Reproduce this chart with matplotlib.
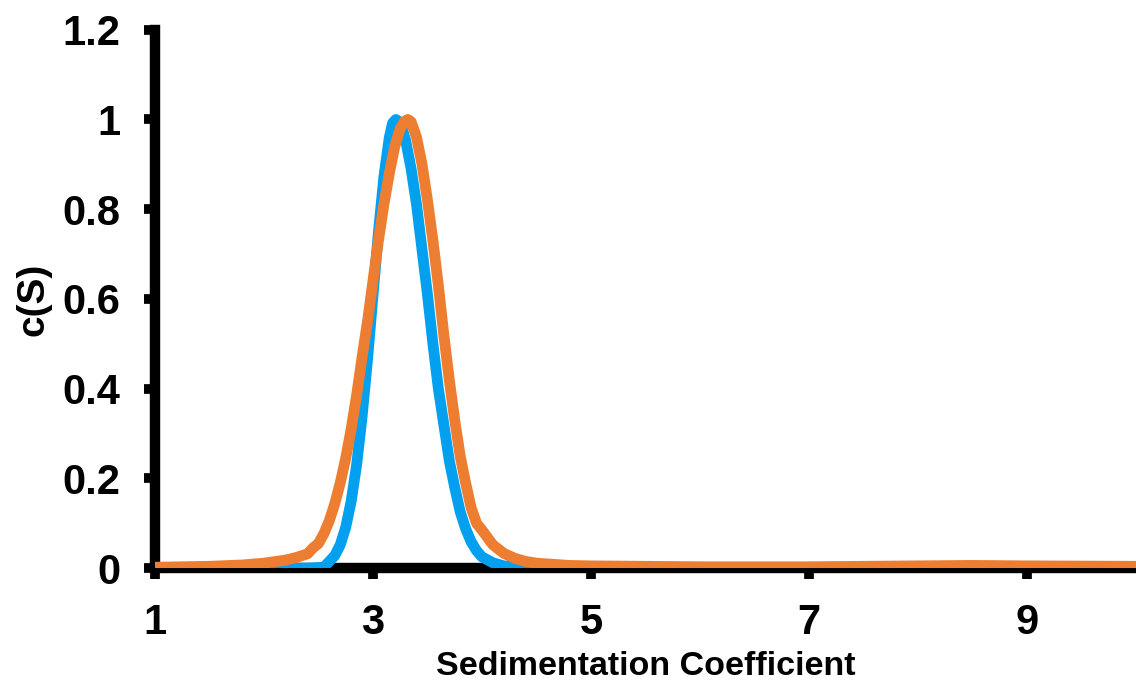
import matplotlib.pyplot as plt

# --------------------------- Data ---------------------------

# blue distribution: sedimentation coefficient vs normalised c(S)
s_blue = [1.0, 2.0, 2.4, 2.55, 2.6, 2.65, 2.7, 2.75, 2.8, 2.85, 2.9, 2.95, 3.0,
          3.05, 3.1, 3.15, 3.18, 3.21, 3.24, 3.27, 3.3, 3.35, 3.4, 3.45, 3.5,
          3.55, 3.6, 3.65, 3.7, 3.75, 3.8, 3.85, 3.9, 3.95, 4.0, 4.1, 4.2, 4.4,
          5.0, 10.0]
c_blue = [0.0, 0.0, 0.0, 0.002, 0.015, 0.028, 0.052, 0.091, 0.149, 0.23, 0.337,
          0.465, 0.607, 0.748, 0.872, 0.96, 0.992, 1.0, 0.995, 0.978, 0.953,
          0.89, 0.81, 0.71, 0.61, 0.50, 0.40, 0.32, 0.24, 0.18, 0.126, 0.088,
          0.059, 0.039, 0.025, 0.012, 0.005, 0.002, 0.001, 0.0]

# orange distribution
s_orange = [1.0, 1.5, 1.8, 2.0, 2.2, 2.3, 2.4, 2.45, 2.5, 2.55, 2.6, 2.65, 2.7,
            2.75, 2.8, 2.85, 2.9, 2.95, 3.0, 3.05, 3.1, 3.15, 3.2, 3.25, 3.29,
            3.32, 3.35, 3.4, 3.45, 3.5, 3.55, 3.6, 3.65, 3.7, 3.75, 3.8, 3.85,
            3.9, 3.95, 4.0, 4.1, 4.2, 4.3, 4.4, 4.5, 4.8, 5.0, 6.0, 7.0, 8.0,
            8.5, 9.0, 10.0]
c_orange = [0.002, 0.004, 0.007, 0.011, 0.018, 0.024, 0.032, 0.045, 0.055, 0.077,
            0.106, 0.144, 0.19, 0.245, 0.31, 0.385, 0.47, 0.55, 0.64, 0.73, 0.81,
            0.88, 0.94, 0.98, 0.996, 1.0, 0.995, 0.96, 0.90, 0.82, 0.73, 0.63,
            0.52, 0.42, 0.33, 0.25, 0.19, 0.135, 0.10, 0.085, 0.052, 0.033,
            0.022, 0.015, 0.011, 0.006, 0.005, 0.003, 0.003, 0.005, 0.006, 0.005,
            0.004]

x_ticks = [1, 3, 5, 7, 9]
y_ticks = [0, 0.2, 0.4, 0.6, 0.8, 1, 1.2]
y_tick_labels = ['0', '0.2', '0.4', '0.6', '0.8', '1', '1.2']

# --------------------------- Plot ---------------------------

plt.rcParams['font.family'] = ['Liberation Sans', 'DejaVu Sans']
plt.rcParams['font.weight'] = 'bold'

fig = plt.figure(figsize=(11.36, 6.92), dpi=100)
ax = fig.add_axes([0.1364, 0.179, 0.8636, 0.778])

ax.plot(s_blue, c_blue, color='#03A0F0', lw=7.8, solid_capstyle='round',
        solid_joinstyle='round', zorder=3)
ax.plot(s_orange, c_orange, color='#ED7D31', lw=7.8, solid_capstyle='round',
        solid_joinstyle='round', zorder=4)

ax.set_xlim(1, 10)
ax.set_ylim(0, 1.2)
ax.set_xticks(x_ticks)
ax.set_yticks(y_ticks)
ax.set_yticklabels(y_tick_labels)

for side in ['top', 'right']:
    ax.spines[side].set_visible(False)
for side in ['left', 'bottom']:
    ax.spines[side].set_linewidth(7.5)
    ax.spines[side].set_color('black')

ax.tick_params(axis='both', direction='out', length=8, width=7,
               labelsize=30, pad=17)

ax.set_xlabel('Sedimentation Coefficient', fontsize=24.5, fontweight='bold', labelpad=6)
ax.set_ylabel('c(S)', fontsize=28, fontweight='bold', labelpad=8)

fig.savefig('out.png', dpi=100)
